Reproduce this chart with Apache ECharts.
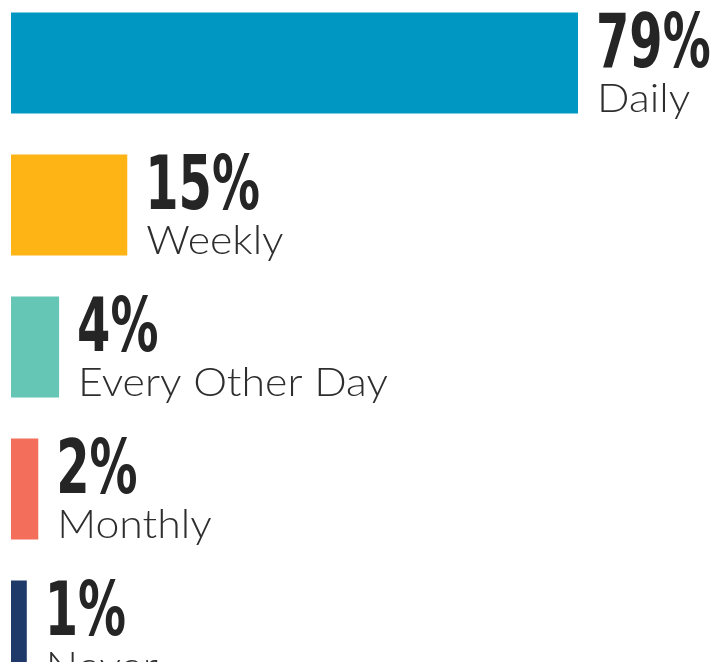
<!DOCTYPE html>
<html>
<head>
<meta charset="utf-8">
<script src="https://cdn.jsdelivr.net/npm/echarts@6/dist/echarts.min.js"></script>
<style>
  html, body { margin: 0; padding: 0; background: #fff; overflow: hidden; }
  /* the reference is a crop of a taller graphic: last row runs off the bottom */
  #chart { width: 711px; height: 710px; margin-top: -8px; }
</style>
</head>
<body>
<div id="chart"></div>
<script>
// frequency categories, top to bottom
var categories = ['Daily', 'Weekly', 'Every Other Day', 'Monthly', 'Never'];
// printed share labels
var shares = [79, 15, 4, 2, 1];
// bar lengths as drawn (same units as the 79% bar)
var barLengths = [79, 16.2, 6.7, 3.8, 2.2];
var colors = ['#0098c2', '#fdb414', '#65c6b6', '#f36f5c', '#1f3a68'];

var chart = echarts.init(document.getElementById('chart'));

// label: big condensed percentage with the category name under it
function renderLabel(params, api) {
  var i = params.dataIndex;
  var pt = api.coord([api.value(0), api.value(1)]);
  var x = pt[0] + 18;
  return {
    type: 'group',
    children: [
      {
        type: 'text',
        x: x,
        y: pt[1] - 15,
        scaleX: 0.71,
        style: {
          text: shares[i] + '%',
          font: 'bold 75px "DejaVu Sans Condensed", "DejaVu Sans", sans-serif',
          fill: '#252525',
          align: 'left',
          verticalAlign: 'middle'
        }
      },
      {
        type: 'text',
        x: x + 1,
        y: pt[1] + 36,
        scaleX: 1.07,
        style: {
          text: categories[i],
          font: '300 40px Lato, "Open Sans", sans-serif',
          fill: '#2e2e2e',
          align: 'left',
          verticalAlign: 'middle'
        }
      }
    ]
  };
}

var option = {
  animation: false,
  grid: {
    left: 11,
    right: 133,
    top: 0,
    bottom: 0,
    containLabel: false
  },
  xAxis: {
    type: 'value',
    min: 0,
    max: 79,
    show: false
  },
  yAxis: {
    type: 'category',
    data: categories,
    inverse: true,
    show: false
  },
  series: [
    {
      type: 'bar',
      barWidth: 101,
      data: barLengths.map(function (v, i) {
        return { value: v, itemStyle: { color: colors[i] } };
      })
    },
    {
      type: 'custom',
      silent: true,
      clip: false,
      renderItem: renderLabel,
      data: barLengths.map(function (v, i) { return [v, i]; })
    }
  ]
};

chart.setOption(option);
</script>
</body>
</html>
